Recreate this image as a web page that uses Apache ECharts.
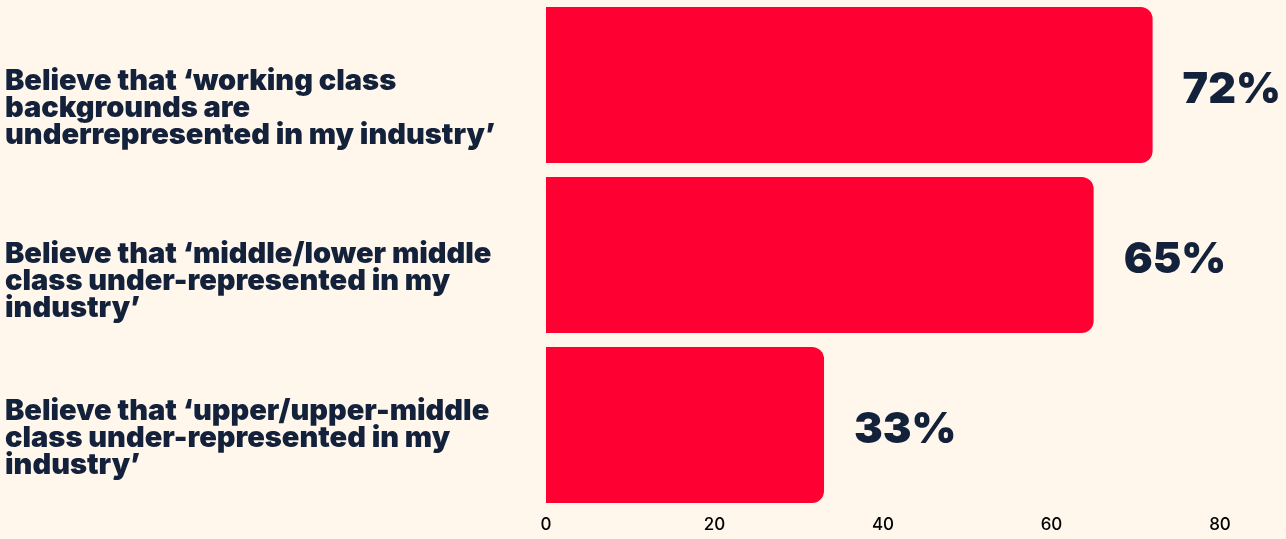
<!DOCTYPE html>
<html>
<head>
<meta charset="utf-8">
<script src="https://cdn.jsdelivr.net/npm/echarts@6/dist/echarts.min.js"></script>
<style>
html,body{margin:0;padding:0;background:#fff6ec;}
#c{width:1286px;height:539px;}
</style>
</head>
<body>
<div id="c"></div>
<script>
const categories = [
  "Believe that ‘working class\nbackgrounds are\nunderrepresented in my industry’",
  "Believe that ‘middle/lower middle\nclass under-represented in my\nindustry’",
  "Believe that ‘upper/upper-middle\nclass under-represented in my\nindustry’"
];
const values = [72, 65, 33];
const axisTicks = [0, 20, 40, 60, 80];

const labelSpacer = [46, 52, 26];

const chart = echarts.init(document.getElementById('c'), null, {renderer: 'canvas'});
chart.setOption({
  backgroundColor: '#fff6ec',
  animation: false,
  grid: {left: 546, right: 66, top: 0, bottom: 29, containLabel: false},
  xAxis: {
    type: 'value', min: axisTicks[0], max: axisTicks[axisTicks.length - 1], interval: 20,
    axisLine: {show: false}, axisTick: {show: false}, splitLine: {show: false},
    axisLabel: {color: '#000', fontSize: 17, fontFamily: 'Inter', fontWeight: 500, margin: 6}
  },
  yAxis: {
    type: 'category', data: categories, inverse: true,
    axisLine: {show: false}, axisTick: {show: false},
    axisLabel: {
      align: 'left', margin: 541, color: '#13213a',
      formatter: function (v, i) {
        return '{s' + i + '| }\n' + v.split('\n').map(function (l) { return '{t|' + l + '}'; }).join('\n');
      },
      rich: {
        t: {fontSize: 29, fontWeight: 900, fontFamily: 'Inter', lineHeight: 27, color: '#13213a'},
        s0: {lineHeight: 46, fontSize: 1},
        s1: {lineHeight: 52, fontSize: 1},
        s2: {lineHeight: 26, fontSize: 1}
      }
    }
  },
  series: [{
    type: 'bar', data: values, barWidth: 156,
    itemStyle: {color: '#ff0033', borderRadius: [0, 12, 12, 0]},
    label: {
      show: true, position: 'right', distance: 30, formatter: '{c}%', offset: [0, 5],
      color: '#13213a', fontSize: 43, fontWeight: 900, fontFamily: 'Inter'
    }
  }]
});
</script>
</body>
</html>
